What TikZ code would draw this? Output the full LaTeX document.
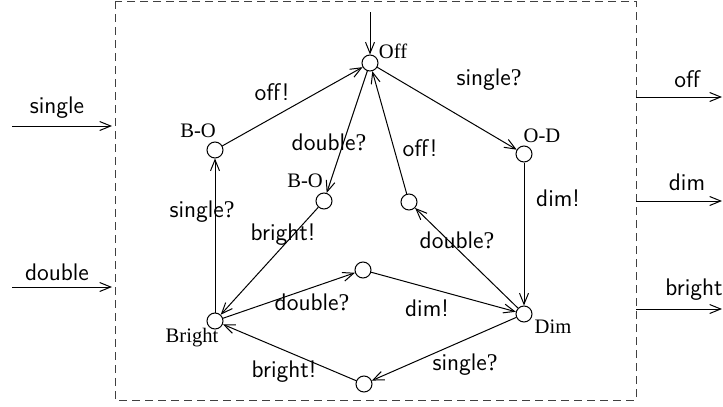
\documentclass[tikz,border=0pt]{standalone}
\usepackage{fontspec}
\newfontfamily\serif{Liberation Serif}
\usetikzlibrary{arrows.meta}
\newcommand\qm{{\serif ?}}
\begin{document}
\begin{tikzpicture}[x=0.5pt,y=-0.5pt,
  state/.style={circle,draw,minimum size=8pt,inner sep=0pt,line width=0.5pt},
  slabel/.style={font=\fontsize{10.3}{12}\serif,inner sep=0pt},
  elabel/.style={font=\fontsize{12}{14}\sffamily,inner sep=0pt},
  trans/.style={-{Straight Barb[length=5.5pt,width=4.5pt]},line width=0.5pt},
  frame/.style={dash pattern=on 4pt off 2.5pt,line width=0.5pt,black!75}]
\useasboundingbox (0,0) rectangle (723,407);
\draw[frame] (115,1) rectangle (636,400);

% states
\node[state] (off) at (370,63) {};
\node[state] (bo1) at (215,150) {};
\node[state] (bo2) at (324,201) {};
\node[state] (od) at (524,154) {};
\node[state] (ir) at (409,202) {};
\node[state] (mid) at (363,270) {};
\node[state] (br) at (215,321) {};
\node[state] (dim) at (524,314) {};
\node[state] (bot) at (364,384) {};

% state labels
\node[slabel] (loff) at (393,51) {Off};
\node[slabel] (lbo1) at (198,131) {B-O};
\node[slabel] (lbo2) at (305,181) {B-O};
\node[slabel] (lod) at (542,136) {O-D};
\node[slabel] (lbr) at (192,338) {Bright};
\node[slabel] (ldim) at (553,327) {Dim};

% initial
\coordinate (init) at (370,12);
\draw[trans] (init) -- (off);

% transitions
\draw[trans] (off) -- (od);
\draw[trans] (bo1) -- (off);
\draw[trans] (off) -- (bo2);
\draw[trans] (ir) -- (off);
\draw[trans] (od) -- (dim);
\draw[trans] (br) -- (bo1);
\draw[trans] (bo2) -- (br);
\draw[trans] (dim) -- (ir);
\draw[trans] (br) -- (mid);
\draw[trans] (mid) -- (dim);
\draw[trans] (dim) -- (bot);
\draw[trans] (bot) -- (br);

% transition labels
\node[elabel] (t1) at (489,80) {single\qm};
\node[elabel] (t2) at (272,92) {off!};
\node[elabel] (t3) at (329,142) {double\qm};
\node[elabel] (t4) at (420,148) {off!};
\node[elabel] (t5) at (558,198) {dim!};
\node[elabel] (t6) at (202,212) {single\qm};
\node[elabel] (t7) at (283,235) {bright!};
\node[elabel] (t8) at (457,240) {double\qm};
\node[elabel] (t9) at (312,302) {double\qm};
\node[elabel] (t10) at (427,308) {dim!};
\node[elabel] (t11) at (465,365) {single\qm};
\node[elabel] (t12) at (284,372) {bright!};

% inputs
\coordinate (in1s) at (12,126); \coordinate (in1e) at (112,126);
\coordinate (in2s) at (12,287); \coordinate (in2e) at (112,287);
\draw[trans] (in1s) -- (in1e);
\draw[trans] (in2s) -- (in2e);
\node[elabel] (lin1) at (57,108) {single};
\node[elabel] (lin2) at (57,272) {double};

% outputs
\coordinate (o1s) at (636,97); \coordinate (o1e) at (722,97);
\coordinate (o2s) at (636,201); \coordinate (o2e) at (722,201);
\coordinate (o3s) at (636,309); \coordinate (o3e) at (722,309);
\draw[trans] (o1s) -- (o1e);
\draw[trans] (o2s) -- (o2e);
\draw[trans] (o3s) -- (o3e);
\node[elabel] (lo1) at (687,79) {off};
\node[elabel] (lo2) at (687,182) {dim};
\node[elabel] (lo3) at (694,290) {bright};
\end{tikzpicture}
\end{document}
